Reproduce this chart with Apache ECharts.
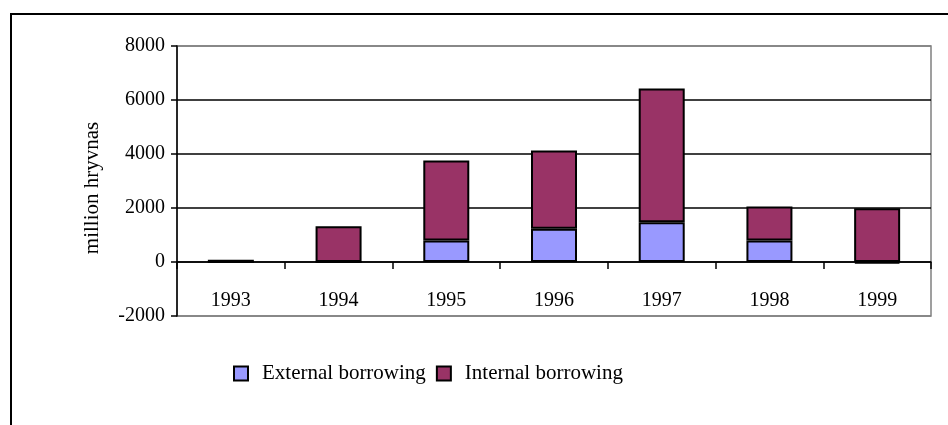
<!DOCTYPE html>
<html>
<head>
<meta charset="utf-8">
<script src="https://cdn.jsdelivr.net/npm/echarts@6/dist/echarts.min.js"></script>
<style>
html,body{margin:0;padding:0;background:#fff;}
#c{width:948px;height:425px;}
</style>
</head>
<body>
<div id="c"></div>
<script>
var years = ['1993','1994','1995','1996','1997','1998','1999'];
var externalBorrowing = [0, 0, 800, 1230, 1470, 800, -50];
var internalBorrowing = [80, 1320, 2960, 2900, 4960, 1260, 1990];
var yTicks = {min: -2000, max: 8000, interval: 2000};

var FONT = 'Liberation Serif';
var chart = echarts.init(document.getElementById('c'), null, {renderer: 'canvas'});
chart.setOption({
  animation: false,
  backgroundColor: '#fff',
  graphic: [{
    type: 'rect',
    shape: {x: 11, y: 14, width: 1000, height: 1000},
    style: {fill: 'none', stroke: '#000', lineWidth: 2},
    silent: true, z: 100
  }],
  grid: {
    left: 177, right: 17, top: 46, bottom: 109,
    show: true, borderColor: '#808080', borderWidth: 1.5, backgroundColor: 'transparent'
  },
  legend: {
    left: 233, top: 363, padding: 0,
    itemWidth: 14, itemHeight: 14, itemGap: 10,
    icon: 'rect',
    textStyle: {fontFamily: FONT, fontSize: 21, color: '#000', padding: [0, 0, 0, 9]},
    data: ['External borrowing', 'Internal borrowing']
  },
  xAxis: {
    type: 'category',
    data: years,
    axisLine: {onZero: true, lineStyle: {color: '#000', width: 1.5}},
    axisTick: {show: true, interval: 0, length: 7, lineStyle: {color: '#000', width: 1.5}},
    axisLabel: {fontFamily: FONT, fontSize: 20, color: '#000', margin: -25, interval: 0},
    splitLine: {show: false}
  },
  yAxis: {
    type: 'value',
    min: yTicks.min, max: yTicks.max, interval: yTicks.interval,
    name: 'million hryvnas',
    nameLocation: 'middle',
    nameGap: 74,
    nameRotate: 90,
    nameTextStyle: {fontFamily: FONT, fontSize: 21, color: '#000', padding: [0, 14, 0, 0]},
    axisLine: {show: true, lineStyle: {color: '#000', width: 1.5}},
    axisTick: {show: true, length: 6, lineStyle: {color: '#000', width: 1.5}},
    axisLabel: {fontFamily: FONT, fontSize: 20, color: '#000', margin: 12, formatter: function (v) { return String(v); }},
    splitLine: {show: true, lineStyle: {color: ['#808080', '#000', '#000', '#000', '#000', '#808080'], width: 1.5}}
  },
  series: [{
    name: 'External borrowing',
    type: 'bar',
    stack: 'total',
    barWidth: 46,
    data: externalBorrowing,
    itemStyle: {color: '#9999FF', borderColor: '#000', borderWidth: 2}
  }, {
    name: 'Internal borrowing',
    type: 'bar',
    stack: 'total',
    barWidth: 46,
    data: internalBorrowing,
    itemStyle: {color: '#993366', borderColor: '#000', borderWidth: 2}
  }]
});
</script>
</body>
</html>
